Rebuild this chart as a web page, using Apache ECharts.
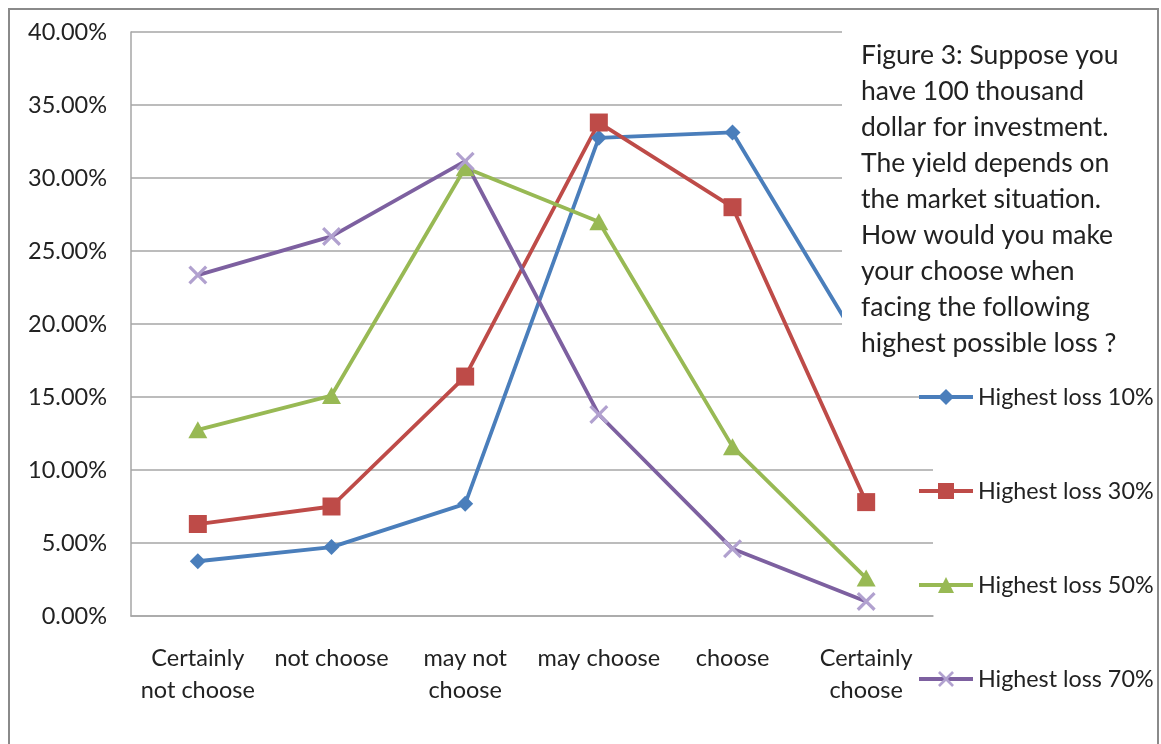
<!DOCTYPE html>
<html>
<head>
<meta charset="utf-8">
<script src="https://cdn.jsdelivr.net/npm/echarts@6/dist/echarts.min.js"></script>
<style>
  html, body { margin: 0; padding: 0; background: #fff; }
  #chart { width: 1161px; height: 744px; }
</style>
</head>
<body>
<div id="chart"></div>
<script>
// Survey answers (share of respondents, %) per highest-possible-loss scenario
const categories = ['Certainly\nnot choose', 'not choose', 'may not\nchoose', 'may choose', 'choose', 'Certainly\nchoose'];
const loss10 = [3.75, 4.72, 7.68, 32.75, 33.12, 17.9];
const loss30 = [6.3, 7.5, 16.4, 33.8, 28.0, 7.8];
const loss50 = [12.75, 15.1, 30.7, 27.0, 11.6, 2.6];
const loss70 = [23.35, 26.0, 31.15, 13.8, 4.6, 1.0];
const seriesNames = ['Highest loss 10%', 'Highest loss 30%', 'Highest loss 50%', 'Highest loss 70%'];
const yTicks = { min: 0, max: 40, step: 5 };

const titleText = 'Figure 3: Suppose you\nhave 100 thousand\ndollar for investment.\nThe yield depends on\nthe market situation.\nHow would you make\nyour choose when\nfacing the following\nhighest possible loss ?';

const FONT = 'Lato, "Open Sans", sans-serif';
const TEXT = '#222';
const crossPath = 'path://M0,1.2L1.2,0L10,8.8L8.8,10Z M8.8,0L10,1.2L1.2,10L0,8.8Z';

function lineSeries(name, data, color, symbol, size, symbolColor) {
  return {
    name: name,
    type: 'line',
    data: data,
    symbol: symbol,
    symbolSize: size,
    showAllSymbol: true,
    lineStyle: { color: color, width: 3.8 },
    itemStyle: { color: symbolColor || color },
    emphasis: { disabled: true },
    z: 2
  };
}

const chart = echarts.init(document.getElementById('chart'));
chart.setOption({
  animation: false,
  backgroundColor: '#fff',
  textStyle: { fontFamily: FONT },
  title: {
    text: titleText,
    left: 842,
    top: 26,
    backgroundColor: '#fff',
    padding: [12, 20, 18, 19],
    textStyle: {
      fontFamily: FONT,
      fontSize: 26.5,
      fontWeight: 'normal',
      lineHeight: 35.9,
      color: TEXT
    },
    z: 10
  },
  legend: {
    orient: 'vertical',
    left: 912,
    top: 380,
    itemWidth: 54,
    itemHeight: 20,
    itemGap: 70,
    data: seriesNames,
    lineStyle: { width: 4 },
    textStyle: { fontFamily: FONT, fontSize: 23.3, color: TEXT, lineHeight: 24 },
    z: 11
  },
  grid: { left: 131, top: 32, right: 228, bottom: 128 },
  xAxis: {
    type: 'category',
    data: categories,
    boundaryGap: true,
    axisLine: { lineStyle: { color: '#a6a6a6', width: 1.5 } },
    axisTick: { show: false },
    axisLabel: {
      interval: 0,
      margin: 26,
      fontSize: 23.5,
      lineHeight: 32,
      color: TEXT,
      fontFamily: FONT
    }
  },
  yAxis: {
    type: 'value',
    min: yTicks.min,
    max: yTicks.max,
    interval: yTicks.step,
    axisLine: { show: true, lineStyle: { color: '#a6a6a6', width: 1.5 } },
    axisTick: { show: false },
    splitLine: { lineStyle: { color: '#a6a6a6', width: 1.5 } },
    axisLabel: {
      margin: 24,
      fontSize: 23.5,
      color: TEXT,
      fontFamily: FONT,
      formatter: v => v.toFixed(2) + '%'
    }
  },
  graphic: [{
    type: 'rect',
    shape: { x: 9, y: 9, width: 1149, height: 760 },
    style: { fill: 'none', stroke: '#8a8a8a', lineWidth: 2 },
    silent: true,
    z: 20
  }],
  series: [
    lineSeries(seriesNames[0], loss10, '#4a7ebb', 'diamond', 16),
    lineSeries(seriesNames[1], loss30, '#be4b48', 'rect', 18),
    lineSeries(seriesNames[2], loss50, '#98b954', 'triangle', [19, 17]),
    lineSeries(seriesNames[3], loss70, '#7d60a0', crossPath, 19, '#b1a1cf')
  ]
});
</script>
</body>
</html>
